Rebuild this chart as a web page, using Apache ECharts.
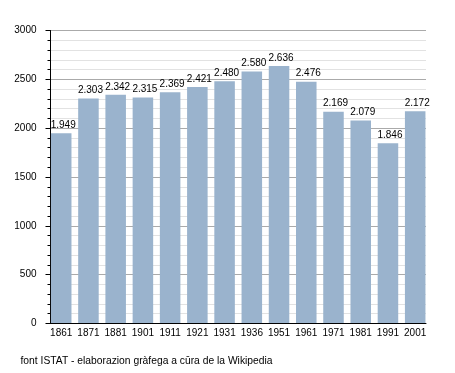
<!DOCTYPE html>
<html><head><meta charset="utf-8">
<script src="https://cdn.jsdelivr.net/npm/echarts@6/dist/echarts.min.js"></script>
<style>html,body{margin:0;padding:0;background:#fff}#c{width:455px;height:373px}</style>
</head><body><div id="c"></div>
<script>
var categories = ['1861','1871','1881','1901','1911','1921','1931','1936','1951','1961','1971','1981','1991','2001'];
var population = [1949, 2303, 2342, 2315, 2369, 2421, 2480, 2580, 2636, 2476, 2169, 2079, 1846, 2172];
var yTicks = [0, 500, 1000, 1500, 2000, 2500, 3000];
var footer = 'font ISTAT - elaborazion gràfega a cūra de la Wikipedia';

function fmt(v){ return String(v).replace(/\B(?=(\d{3})+(?!\d))/g, '.'); }
var FONT = 'Liberation Sans, Arial, sans-serif';
var chart = echarts.init(document.getElementById('c'), null, {renderer:'canvas'});
chart.setOption({
  animation: false,
  backgroundColor: '#fff',
  textStyle: {fontFamily: FONT},
  grid: [
    {left: 47.6, top: 30.5, width: 381.2, bottom: 49.5, containLabel: false},
    {left: 50.5, top: 30.5, width: 375.5, bottom: 49.5, containLabel: false}
  ],
  xAxis: [
    {type: 'category', gridIndex: 0, data: categories,
     axisLine: {show: false}, axisTick: {show: false},
     axisLabel: {color: '#000', fontSize: 10, fontFamily: FONT, margin: 5, interval: 0}},
    {type: 'value', gridIndex: 1, min: 0, max: 1, z: 5,
     axisLine: {show: true, lineStyle: {color: '#000', width: 1}},
     axisTick: {show: false}, axisLabel: {show: false}, splitLine: {show: false}}
  ],
  yAxis: [
    {type: 'value', gridIndex: 0, min: 0, max: 3000, show: false, splitLine: {show: false}},
    {type: 'value', gridIndex: 1, min: yTicks[0], max: yTicks[yTicks.length-1], interval: 500, z: 0,
     axisLine: {show: true, lineStyle: {color: '#000', width: 1}},
     axisTick: {show: true, length: 5, lineStyle: {color: '#000'}},
     minorTick: {show: true, splitNumber: 5, length: 3, lineStyle: {color: '#000'}},
     axisLabel: {color: '#000', fontSize: 10, fontFamily: FONT, margin: 14,
       formatter: function(v){ return String(v); }},
     splitLine: {show: true, lineStyle: {color: '#aaaaaa', width: 1}},
     minorSplitLine: {show: true, lineStyle: {color: '#e2e2e2', width: 1}}}
  ],
  series: [{
    type: 'bar', xAxisIndex: 0, yAxisIndex: 0, data: population, z: 2,
    barCategoryGap: '24.6%',
    itemStyle: {color: '#9ab3cd'},
    label: {show: true, position: 'top', distance: 3, offset: [2, 0],
      color: '#000', fontSize: 10, fontFamily: FONT,
      formatter: function(p){ return fmt(p.value); }}
  }],
  graphic: [{type: 'text', left: 20.5, top: 356, z: 10,
    style: {text: footer, fill: '#000', fontSize: 10.3, fontFamily: FONT}}]
});
</script></body></html>
